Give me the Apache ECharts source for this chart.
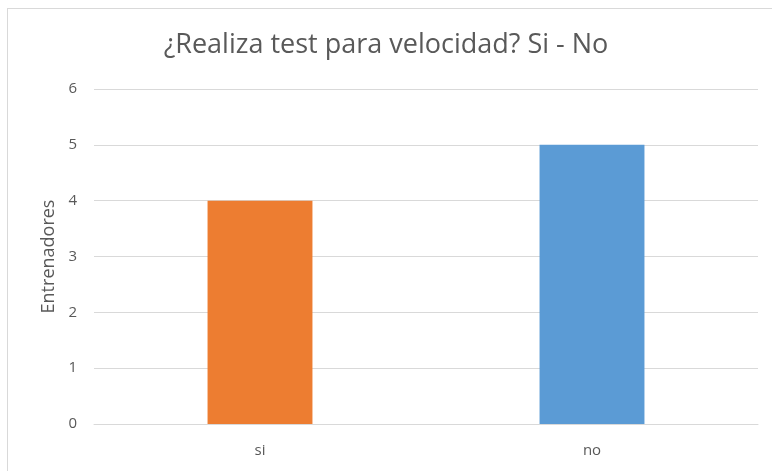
<!DOCTYPE html>
<html>
<head>
<meta charset="utf-8">
<script src="https://cdn.jsdelivr.net/npm/echarts@6/dist/echarts.min.js"></script>
<style>
  html, body { margin: 0; padding: 0; background: #fff; }
  #frame { position: absolute; left: 7px; top: 8px; width: 770px; height: 470px; border: 1px solid #d9d9d9; box-sizing: border-box; }
  #chart { position: absolute; left: 0; top: 0; width: 772px; height: 471px; }
</style>
</head>
<body>
<div id="frame"></div>
<div id="chart"></div>
<script>
// datos
const categorias = ['si', 'no'];
const valores = [4, 5];
const colores = ['#ED7D31', '#5B9BD5'];

const chart = echarts.init(document.getElementById('chart'), null, { renderer: 'canvas' });

const font = '"Open Sans", "Liberation Sans", sans-serif';

chart.setOption({
  animation: false,
  title: {
    text: '¿Realiza test para velocidad? Si - No',
    left: 'center',
    top: 27,
    textStyle: { fontFamily: font, fontSize: 27, fontWeight: 'normal', color: '#595959' }
  },
  grid: { left: 94, right: 14, top: 89, bottom: 47 },
  xAxis: {
    type: 'category',
    data: categorias,
    axisLine: { lineStyle: { color: '#d9d9d9' } },
    axisTick: { show: false },
    axisLabel: { color: '#595959', fontFamily: font, fontSize: 15, margin: 19 }
  },
  yAxis: {
    type: 'value',
    min: 0,
    max: 6,
    interval: 1,
    name: 'Entrenadores',
    nameLocation: 'middle',
    nameGap: 35,
    nameTextStyle: { color: '#595959', fontFamily: font, fontSize: 18 },
    axisLine: { show: false },
    axisTick: { show: false },
    axisLabel: { color: '#595959', fontFamily: font, fontSize: 15, margin: 17 },
    splitLine: { lineStyle: { color: '#d9d9d9' } }
  },
  series: [{
    type: 'bar',
    barWidth: '31.6%',
    data: valores.map((v, i) => ({ value: v, itemStyle: { color: colores[i] } }))
  }]
});
</script>
</body>
</html>
